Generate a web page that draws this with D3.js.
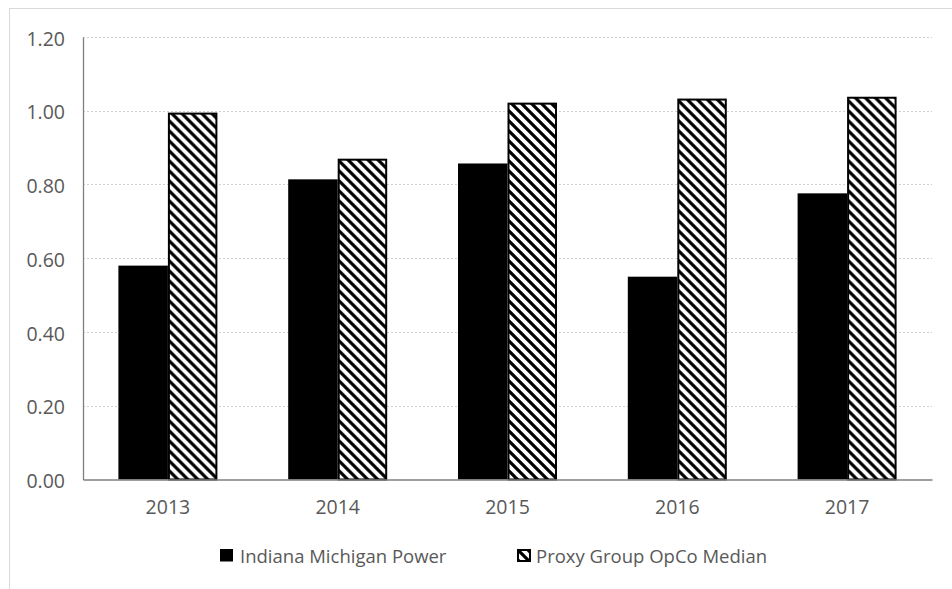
<!DOCTYPE html>
<html>
<head>
<meta charset="utf-8">
<script src="https://cdn.jsdelivr.net/npm/d3@7"></script>
<style>
  html, body { margin: 0; padding: 0; background: #fff; }
  svg { display: block; }
  text { font-family: "Open Sans", "Liberation Sans", sans-serif; fill: #595959; }
</style>
</head>
<body>
<svg id="chart" width="952" height="589"></svg>
<script>
// Chart data
const years = ["2013", "2014", "2015", "2016", "2017"];
const seriesNames = ["Indiana Michigan Power", "Proxy Group OpCo Median"];
const indianaMichigan = [0.58, 0.814, 0.857, 0.55, 0.776];
const proxyMedian = [0.995, 0.870, 1.022, 1.033, 1.038];
const yTicks = [0, 0.2, 0.4, 0.6, 0.8, 1.0, 1.2];

const svg = d3.select("#chart");
const plotLeft = 83, plotRight = 932, plotTop = 37, plotBottom = 479.5;

// Outer chart frame
svg.append("rect")
  .attr("x", 9.5).attr("y", 8.5)
  .attr("width", 1000).attr("height", 700)
  .attr("fill", "none").attr("stroke", "#d9d9d9").attr("stroke-width", 1);

// Wide downward-diagonal hatch for the proxy series
const defs = svg.append("defs");
const pat = defs.append("pattern")
  .attr("id", "hatch")
  .attr("patternUnits", "userSpaceOnUse")
  .attr("width", 10).attr("height", 10);
pat.append("rect").attr("width", 10).attr("height", 10).attr("fill", "#fff");
pat.append("path")
  .attr("d", "M-2,-2 L12,12 M-2,8 L2,12 M8,-2 L12,2")
  .attr("stroke", "#000").attr("stroke-width", 3.2);

const x = d3.scaleBand().domain(years).range([plotLeft, plotRight])
  .paddingInner(0.417).paddingOuter(0.2085);
const xs = d3.scaleBand().domain([0, 1]).range([0, x.bandwidth()]);
const y = d3.scaleLinear().domain([0, 1.2]).range([plotBottom, plotTop]);

// Dotted horizontal gridlines
svg.append("g")
  .selectAll("line")
  .data(yTicks.filter(d => d > 0))
  .join("line")
  .attr("x1", plotLeft).attr("x2", plotRight)
  .attr("y1", d => Math.round(y(d)) + 0.5).attr("y2", d => Math.round(y(d)) + 0.5)
  .attr("stroke", "#cfcfcf").attr("stroke-width", 1)
  .attr("stroke-dasharray", "2,2");

// Y axis
const yAxis = svg.append("g")
  .attr("transform", `translate(${plotLeft},0)`)
  .call(d3.axisLeft(y).tickValues(yTicks).tickFormat(d3.format(".2f")).tickSize(0).tickPadding(18));
yAxis.select(".domain").attr("stroke", "#7f7f7f").attr("stroke-width", 1.3);
yAxis.selectAll("text").style("font-size", "19.5px").attr("fill", "#595959")
  .attr("dy", "0.42em")
  .style("font-family", "'Open Sans', sans-serif");

// Bars
const data = years.map((yr, i) => ({ year: yr, values: [indianaMichigan[i], proxyMedian[i]] }));
const groups = svg.append("g").selectAll("g")
  .data(data)
  .join("g")
  .attr("transform", d => `translate(${x(d.year)},0)`);

groups.append("rect")
  .attr("x", xs(0))
  .attr("y", d => y(d.values[0]))
  .attr("width", xs.bandwidth())
  .attr("height", d => y(0) - y(d.values[0]))
  .attr("fill", "#000");

groups.append("rect")
  .attr("x", xs(1) + 1)
  .attr("y", d => y(d.values[1]) + 1)
  .attr("width", xs.bandwidth() - 2)
  .attr("height", d => y(0) - y(d.values[1]) - 1)
  .attr("fill", "url(#hatch)")
  .attr("stroke", "#000").attr("stroke-width", 2);

// X axis
const xAxis = svg.append("g")
  .attr("transform", `translate(0,${plotBottom})`)
  .call(d3.axisBottom(x).tickSize(0).tickPadding(21));
xAxis.select(".domain").attr("stroke", "#7f7f7f").attr("stroke-width", 1.5);
xAxis.selectAll("text").style("font-size", "19.5px").attr("fill", "#595959")
  .style("font-family", "'Open Sans', sans-serif");

// Legend
const legendX = [220, 517];
const legend = svg.append("g").selectAll("g")
  .data(seriesNames)
  .join("g")
  .attr("transform", (d, i) => `translate(${legendX[i]},549)`);
legend.append("rect")
  .attr("x", (d, i) => i ? 1 : 0).attr("y", (d, i) => i ? 1 : 0)
  .attr("width", (d, i) => i ? 12 : 13).attr("height", (d, i) => i ? 11 : 12.5)
  .attr("fill", (d, i) => i ? "url(#hatch)" : "#000")
  .attr("stroke", (d, i) => i ? "#000" : "none")
  .attr("stroke-width", 2);
legend.append("text")
  .attr("x", (d, i) => i ? 19 : 20).attr("y", 13.5)
  .style("font-size", "18.5px")
  .text(d => d);
</script>
</body>
</html>
